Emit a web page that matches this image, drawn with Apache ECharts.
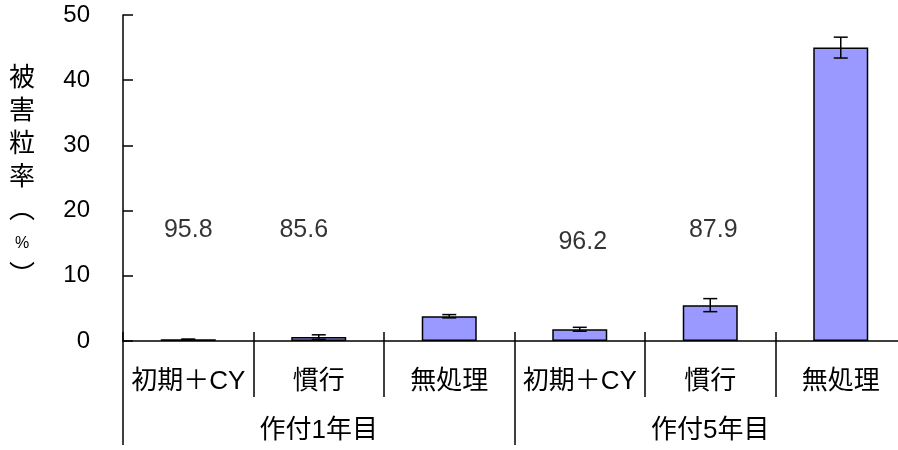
<!DOCTYPE html>
<html>
<head>
<meta charset="utf-8">
<script src="https://cdn.jsdelivr.net/npm/echarts@6/dist/echarts.min.js"></script>
<style>
  html, body { margin: 0; padding: 0; background: #fff; }
  #main { width: 898px; height: 450px; }
</style>
</head>
<body>
<div id="main"></div>
<script>
// 被害粒率グラフ
const categories = ['初期＋CY', '慣行', '無処理', '初期＋CY', '慣行', '無処理'];
const groups = ['作付1年目', '作付5年目'];
const meanValues = [0.25, 0.6, 3.8, 1.8, 5.5, 45.0];
const errValues = [0.05, 0.35, 0.25, 0.3, 1.0, 1.6];
// 防除価
const efficacyLabels = ['95.8', '85.6', '', '96.2', '87.9', ''];

const FONT = '"Liberation Sans", "Noto Sans CJK JP", sans-serif';
const labelY = 17; // 防除価の表示高さ
const labelOffsets = [[0, 0], [-15, 0], [0, 0], [3, 12], [3, 0], [0, 0]];

const chart = echarts.init(document.getElementById('main'));

const tickStyle = { color: '#000', width: 1.5 };

const option = {
  animation: false,
  grid: { left: 123, top: 15, right: -8, bottom: 109, outerBoundsMode: 'none', containLabel: false },
  xAxis: [
    {
      type: 'category',
      data: categories,
      position: 'bottom',
      axisLine: { show: true, lineStyle: tickStyle },
      axisTick: { show: true, length: 56, lineStyle: tickStyle },
      axisLabel: { interval: 0, margin: 28, fontSize: 26, color: '#000', fontFamily: FONT }
    },
    {
      type: 'category',
      data: categories,
      position: 'bottom',
      axisLine: { show: false },
      axisTick: { show: true, inside: true, length: 9, lineStyle: tickStyle },
      axisLabel: { show: false }
    },
    {
      type: 'category',
      data: groups,
      position: 'bottom',
      axisLine: { show: false },
      axisTick: { show: true, length: 104, lineStyle: tickStyle },
      axisLabel: { interval: 0, margin: 77, fontSize: 26, color: '#000', fontFamily: FONT }
    }
  ],
  yAxis: {
    type: 'value',
    min: 0,
    max: 50,
    interval: 10,
    axisLine: { show: true, lineStyle: tickStyle },
    axisTick: { show: true, inside: true, length: 10, lineStyle: tickStyle },
    axisLabel: { margin: 33, fontSize: 24, color: '#000', fontFamily: FONT },
    splitLine: { show: false },
    name: '被\n害\n粒\n率\n︵\n{p|%}\n︶',
    nameLocation: 'middle',
    nameRotate: 0,
    nameGap: 101,
    nameTextStyle: {
      align: 'center',
      verticalAlign: 'middle',
      fontSize: 26,
      lineHeight: 33,
      color: '#000',
      fontFamily: FONT,
      rich: { p: { fontSize: 16, lineHeight: 33, color: '#000', fontFamily: FONT } }
    }
  },
  series: [
    {
      type: 'bar',
      xAxisIndex: 0,
      data: meanValues,
      barWidth: 55,
      itemStyle: { color: '#9999ff', borderColor: '#000', borderWidth: 1.5 }
    },
    {
      type: 'custom',
      xAxisIndex: 0,
      data: meanValues.map((v, i) => [i, v - errValues[i], v + errValues[i]]),
      renderItem: function (params, api) {
        const lo = api.coord([api.value(0), api.value(1)]);
        const hi = api.coord([api.value(0), api.value(2)]);
        const w = 7;
        const style = { stroke: '#000', lineWidth: 1.5 };
        return {
          type: 'group',
          children: [
            { type: 'line', shape: { x1: lo[0], y1: lo[1], x2: hi[0], y2: hi[1] }, style: style },
            { type: 'line', shape: { x1: lo[0] - w, y1: lo[1], x2: lo[0] + w, y2: lo[1] }, style: style },
            { type: 'line', shape: { x1: hi[0] - w, y1: hi[1], x2: hi[0] + w, y2: hi[1] }, style: style }
          ]
        };
      },
      z: 3
    },
    {
      type: 'scatter',
      xAxisIndex: 0,
      symbolSize: 0,
      data: efficacyLabels
        .map((t, i) => ({ name: t, value: [i, labelY], label: { offset: labelOffsets[i] } }))
        .filter(d => d.name !== ''),
      label: {
        show: true,
        position: 'inside',
        formatter: '{b}',
        fontSize: 25,
        color: '#000',
        fontFamily: FONT
      }
    }
  ]
};

chart.setOption(option);
</script>
</body>
</html>
